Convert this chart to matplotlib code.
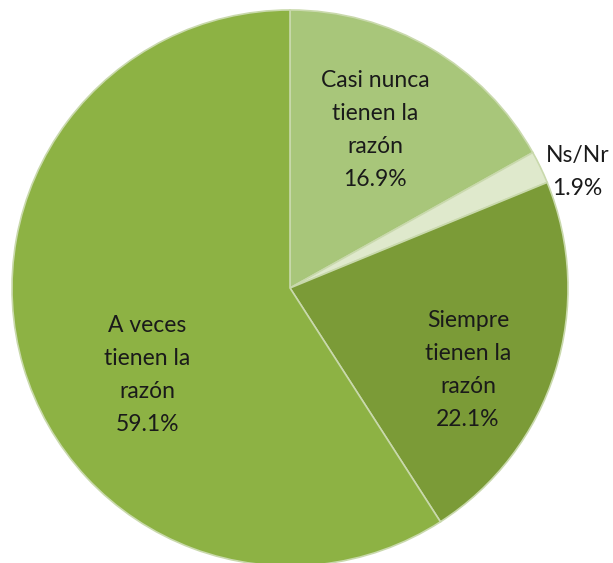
import numpy as np
import matplotlib.pyplot as plt

# datos del gráfico
etiquetas = ['Casi nunca\ntienen la\nrazón', 'Ns/Nr', 'Siempre\ntienen la\nrazón', 'A veces\ntienen la\nrazón']
valores = [16.9, 1.9, 22.1, 59.1]
colores = ['#a8c67a', '#dfe9cc', '#7b9b37', '#8db244']

# posición de las etiquetas (radio, ángulo) en unidades del pastel
pos_etiquetas = [(0.645, 61.7), (1.115, 21.9), (0.705, -24.7), (0.60, -148.7)]

W, H = 613, 563
cx, cy, R = 290, 275, 278  # centro (desde abajo) y radio en píxeles

fig = plt.figure(figsize=(W / 100, H / 100), dpi=100)
ax = fig.add_axes([0, 0, 1, 1])

ax.pie(valores, colors=colores, startangle=90, counterclock=False,
       wedgeprops=dict(edgecolor='#c9d9ac', linewidth=1.2))

ax.set_xlim(-cx / R, (W - cx) / R)
ax.set_ylim(-cy / R, (H - cy) / R)
ax.set_aspect('auto')
ax.axis('off')

for lab, v, (r, ang) in zip(etiquetas, valores, pos_etiquetas):
    x = r * np.cos(np.radians(ang))
    y = r * np.sin(np.radians(ang))
    ax.text(x, y, f'{lab}\n{v:.1f}%', ha='center', va='center',
            fontsize=16.5, family='Lato', color='#1a1a1a', linespacing=1.7)

fig.savefig('out.png', dpi=100)
